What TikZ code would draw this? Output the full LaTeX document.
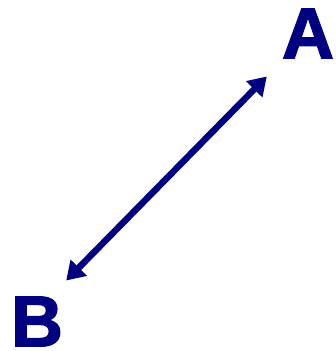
\documentclass[tikz,border=0pt]{standalone}
\usepackage{fontspec}
\setmainfont{Liberation Sans}
\newfontfamily\heavyfont[FakeBold=2]{Liberation Sans Bold}
\usetikzlibrary{arrows.meta}
\definecolor{Navy}{RGB}{0,0,128}
\tikzset{
  letter/.style={inner sep=0pt,text=Navy,font=\fontsize{72}{72}\selectfont\heavyfont},
  link/.style={{Triangle[length=18pt,width=22pt]}-{Triangle[length=18pt,width=22pt]},line width=6.5pt,draw=Navy}
}
\begin{document}
\begin{tikzpicture}[x=1pt,y=-1pt]
  \useasboundingbox (0,0) rectangle (335,351);
  \node[letter] (A) at (308,33.5) {A};
  \node[letter] (B) at (37,321.5) {B};
  \draw[link] ([shift={(3,-16)}]B.north east) -- ([shift={(-15,18)}]A.south west);
\end{tikzpicture}
\end{document}
